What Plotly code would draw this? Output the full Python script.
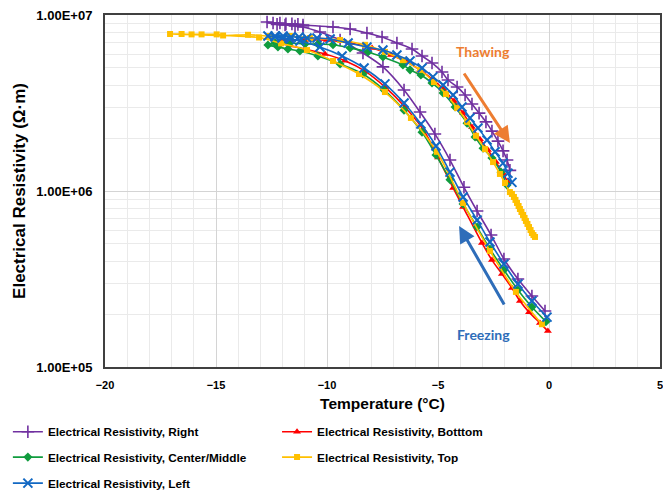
import plotly.graph_objects as go

# ---- Electrical resistivity (ohm*m) vs temperature (deg C), freeze then thaw ----
right_t_freeze = [-0.18, -0.77, -1.40, -2.03, -2.61, -3.24, -3.83, -4.46, -5.14, -5.81, -6.53, -7.48,
                  -8.38, -9.41, -10.32, -11.08, -11.44, -11.89, -12.25, -12.70]
right_r_freeze = [2.08e5, 2.53e5, 3.16e5, 4.11e5, 5.62e5, 7.70e5, 1.05e6, 1.50e6, 2.11e6, 2.81e6, 3.75e6, 5.07e6,
                  6.08e6, 7.21e6, 8.00e6, 8.55e6, 8.66e6, 8.77e6, 8.85e6, 9.12e6]
right_t_thaw = [-12.43, -12.12, -11.85, -11.58, -11.31, -11.08, -9.73, -8.96, -8.20, -7.52, -6.85, -6.17,
                -5.72, -5.27, -4.82, -4.55, -4.14, -3.78, -3.47, -3.15, -2.84, -2.57, -2.30, -2.07, -1.89, -1.76]
right_r_thaw = [9.0e6, 9.0e6, 8.9e6, 8.9e6, 8.85e6, 8.78e6, 8.55e6, 8.32e6, 7.9e6, 7.5e6, 6.93e6, 6.41e6,
                5.85e6, 5.34e6, 4.74e6, 4.27e6, 3.90e6, 3.51e6, 3.12e6, 2.77e6, 2.47e6, 2.19e6, 1.92e6, 1.69e6, 1.50e6, 1.31e6]

bottom_t_freeze = [-0.05, -0.41, -0.90, -1.31, -1.67, -2.12, -2.57, -3.02, -3.87, -4.32, -5.00, -5.63,
                   -6.49, -7.39, -8.29, -9.19, -10.09, -10.99, -11.67, -12.34]
bottom_r_freeze = [1.60e5, 1.78e5, 2.05e5, 2.37e5, 2.81e5, 3.38e5, 4.05e5, 5.07e5, 8.11e5, 1.04e6, 1.55e6, 2.20e6,
                   3.00e6, 3.90e6, 4.80e6, 5.50e6, 6.00e6, 6.40e6, 6.70e6, 7.00e6]
bottom_t_thaw = [-12.00, -11.67, -10.99, -10.00, -8.96, -7.97, -7.12, -6.40, -5.81, -5.27, -4.77, -4.28,
                 -3.87, -3.47, -3.11, -2.75, -2.39, -2.07, -1.85]
bottom_r_thaw = [7.21e6, 7.21e6, 7.2e6, 7.2e6, 6.93e6, 6.50e6, 5.93e6, 5.41e6, 4.88e6, 4.33e6, 3.80e6, 3.25e6,
                 2.77e6, 2.31e6, 1.97e6, 1.71e6, 1.46e6, 1.26e6, 1.12e6]

center_t_freeze = [-0.14, -0.77, -1.40, -2.03, -2.66, -3.24, -3.87, -4.46, -5.09, -5.72, -6.53, -7.43,
                   -8.38, -9.41, -10.41, -11.22, -11.76, -12.21, -12.66]
center_r_freeze = [1.81e5, 2.19e5, 2.74e5, 3.56e5, 4.68e5, 6.24e5, 8.44e5, 1.16e6, 1.60e6, 2.16e6, 2.88e6, 3.75e6,
                   4.62e6, 5.27e6, 5.85e6, 6.24e6, 6.41e6, 6.58e6, 6.76e6]
center_t_thaw = [-12.34, -11.67, -10.99, -10.41, -9.73, -8.96, -8.15, -7.48, -6.58, -6.26, -5.77, -5.27,
                 -4.77, -4.23, -3.69, -3.33, -2.97, -2.57, -2.16, -1.89]
center_r_thaw = [6.93e6, 6.93e6, 6.84e6, 6.84e6, 6.77e6, 6.50e6, 6.17e6, 5.77e6, 5.20e6, 4.88e6, 4.56e6, 4.11e6,
                 3.61e6, 3.00e6, 2.43e6, 2.03e6, 1.75e6, 1.54e6, 1.28e6, 1.08e6]

top_t_freeze = [-0.32, -1.49, -2.66, -3.87, -5.05, -6.22, -7.39, -8.56, -9.73, -10.90, -12.07, -13.06, -17.07]
top_r_freeze = [1.75e5, 2.67e5, 4.56e5, 8.55e5, 1.67e6, 2.60e6, 3.65e6, 4.62e6, 5.48e6, 6.32e6, 6.90e6, 7.45e6, 7.80e6]
top_t_thaw = [-16.55, -16.10, -15.65, -14.97, -14.68, -13.56, -12.57, -11.67, -10.77, -9.41, -8.29, -7.39,
              -6.58, -5.81, -5.18, -4.64, -4.14, -3.69, -3.29, -2.88, -2.52, -2.21, -1.98, -1.76,
              -1.67, -1.58, -1.51, -1.44, -1.37, -1.31, -1.24, -1.17, -1.10, -1.04, -0.97, -0.90,
              -0.83, -0.77, -0.70, -0.63]
top_r_thaw = [7.80e6, 7.76e6, 7.76e6, 7.76e6, 7.65e6, 7.72e6, 7.6e6, 7.6e6, 7.4e6, 7.21e6, 6.77e6, 6.17e6,
              5.54e6, 4.88e6, 4.16e6, 3.56e6, 2.96e6, 2.47e6, 2.06e6, 1.73e6, 1.46e6, 1.25e6, 1.11e6, 9.86e5,
              9.62e5, 9.25e5, 8.90e5, 8.55e5, 8.22e5, 7.90e5, 7.60e5, 7.31e5, 7.03e5, 6.76e5, 6.50e5, 6.24e5,
              6.00e5, 5.77e5, 5.62e5, 5.48e5]

left_t_freeze = [-0.09, -0.77, -1.40, -2.03, -2.66, -3.24, -3.87, -4.46, -5.09, -5.77, -6.53, -7.39,
                 -8.33, -9.32, -10.32, -11.22, -11.67, -12.03, -12.34, -12.66]
left_r_freeze = [1.92e5, 2.37e5, 2.96e5, 3.85e5, 5.13e5, 6.84e5, 9.25e5, 1.28e6, 1.80e6, 2.40e6, 3.16e6, 4.06e6,
                 5.00e6, 5.85e6, 6.58e6, 7.11e6, 7.30e6, 7.40e6, 7.50e6, 7.60e6]
left_t_thaw = [-12.34, -11.98, -11.62, -11.26, -10.90, -10.45, -9.86, -9.05, -8.20, -7.48, -6.85, -6.26,
               -5.72, -5.23, -4.77, -4.32, -3.92, -3.56, -3.20, -2.79, -2.43, -2.07, -1.85, -1.67]
left_r_thaw = [7.6e6, 7.6e6, 7.5e6, 7.5e6, 7.4e6, 7.4e6, 7.31e6, 6.93e6, 6.58e6, 6.32e6, 5.93e6, 5.48e6,
               5.00e6, 4.45e6, 4.00e6, 3.51e6, 3.00e6, 2.60e6, 2.28e6, 1.95e6, 1.67e6, 1.44e6, 1.26e6, 1.12e6]

series_names = ["Electrical Resistivity, Right", "Electrical Resistivity, Botttom",
                "Electrical Resistivity, Center/Middle", "Electrical Resistivity, Top",
                "Electrical Resistivity, Left"]
x_tick_vals = [-20, -15, -10, -5, 0, 5]
y_tick_vals = [1e5, 1e6, 1e7]
y_tick_text = ["1.00E+05", "1.00E+06", "1.00E+07"]

series = [
    (right_t_freeze + right_t_thaw, right_r_freeze + right_r_thaw,
     "#7030A0", dict(symbol="cross-thin", size=9, line=dict(width=1.6, color="#7030A0"))),
    (bottom_t_freeze + bottom_t_thaw, bottom_r_freeze + bottom_r_thaw,
     "#FF0000", dict(symbol="triangle-up", size=7)),
    (center_t_freeze + center_t_thaw, center_r_freeze + center_r_thaw,
     "#109C3E", dict(symbol="diamond", size=7)),
    (top_t_freeze + top_t_thaw, top_r_freeze + top_r_thaw,
     "#FFC000", dict(symbol="square", size=6)),
    (left_t_freeze + left_t_thaw, left_r_freeze + left_r_thaw,
     "#1268C3", dict(symbol="x-thin", size=9, line=dict(width=2, color="#1268C3"))),
]

# legend slots: two columns, three rows below the axes
legend_slots = [(-0.175, -0.184), (0.31, -0.184), (-0.175, -0.256), (0.31, -0.256), (-0.175, -0.330)]
legend_font = dict(family="Arial, Liberation Sans", size=11.8, color="#000000", weight="bold")

fig = go.Figure()
layout_legends = {}
for i, ((xs, ys, color, marker), name) in enumerate(zip(series, series_names)):
    key = "legend" if i == 0 else f"legend{i + 1}"
    marker = dict(marker, color=color)
    fig.add_trace(go.Scatter(
        x=xs, y=ys, name=name, mode="lines+markers",
        line=dict(color=color, width=1.6, shape="spline", smoothing=0.8),
        marker=marker, legend=key,
    ))
    lx, ly = legend_slots[i]
    layout_legends[key] = dict(
        x=lx, y=ly, xanchor="left", yanchor="middle", orientation="h",
        bgcolor="rgba(0,0,0,0)", font=legend_font, borderwidth=0,
    )

# Direction arrows and labels
fig.add_annotation(x=-1.76, y=6.273, ax=-3.87, ay=6.676, xref="x", yref="y", axref="x", ayref="y",
                   showarrow=True, arrowhead=2, arrowsize=1.1, arrowwidth=3, arrowcolor="#ED7D31", text="")
fig.add_annotation(x=-2.97, y=6.790, xref="x", yref="y", showarrow=False, text="<b>Thawing</b>",
                   font=dict(family="Lato", size=14, color="#ED7D31"))
fig.add_annotation(x=-4.05, y=5.801, ax=-1.98, ay=5.347, xref="x", yref="y", axref="x", ayref="y",
                   showarrow=True, arrowhead=2, arrowsize=1.1, arrowwidth=3, arrowcolor="#2E6DB9", text="")
fig.add_annotation(x=-2.97, y=5.182, xref="x", yref="y", showarrow=False, text="<b>Freezing</b>",
                   font=dict(family="Lato", size=14, color="#2E6DB9"))

minor_y = [m * 10 ** e for e in (5, 6) for m in range(2, 10)]

fig.update_layout(
    width=663, height=493,
    margin=dict(l=105, r=3, t=15, b=126, autoexpand=False),
    paper_bgcolor="#FFFFFF", plot_bgcolor="#FFFFFF",
    showlegend=True,
    **layout_legends,
    xaxis=dict(
        range=[-20, 5], tickvals=x_tick_vals, ticks="", ticklabelstandoff=7,
        ticklabeloverflow="allow",
        tickfont=dict(family="Arial, Liberation Sans", size=11, color="#000000", weight="bold"),
        showgrid=True, gridcolor="#D4D4D4", gridwidth=1,
        minor=dict(dtick=1, tick0=-20, showgrid=True, gridcolor="#EAEAEA", gridwidth=1),
        showline=True, linecolor="#404040", linewidth=2, mirror=True, zeroline=False,
        title=dict(text="<b>Temperature (°C)</b>", standoff=8,
                   font=dict(family="Arial, Liberation Sans", size=15.5, color="#000000")),
    ),
    yaxis=dict(
        type="log", range=[5, 7], tickvals=y_tick_vals, ticktext=y_tick_text, ticks="",
        ticklabelstandoff=8,
        tickfont=dict(family="Arial, Liberation Sans", size=13, color="#000000", weight="bold"),
        showgrid=True, gridcolor="#D4D4D4", gridwidth=1,
        minor=dict(tickvals=minor_y, showgrid=True, gridcolor="#EAEAEA", gridwidth=1),
        showline=True, linecolor="#404040", linewidth=2, mirror=True, zeroline=False,
        title=dict(text="<b>Electrical Resistivity (Ω·m)</b>", standoff=6,
                   font=dict(family="Arial, Liberation Sans", size=17, color="#000000")),
    ),
)

fig.write_html("out.html")
